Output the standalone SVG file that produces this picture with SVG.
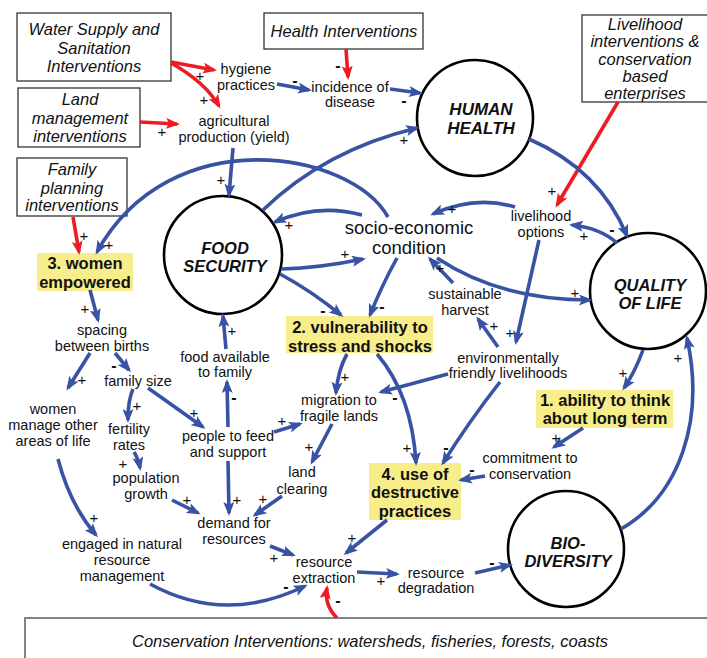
<svg xmlns="http://www.w3.org/2000/svg" width="707" height="658" viewBox="0 0 707 658">
<style>
.t{font-family:"Liberation Sans",Arial,sans-serif;font-size:14.5px;text-anchor:middle;fill:#111}
.se{font-size:18.5px}
.i{font-family:"Liberation Sans",Arial,sans-serif;font-size:16.5px;font-style:italic;text-anchor:middle;fill:#111}
.h{font-family:"Liberation Sans",Arial,sans-serif;font-size:16.5px;font-weight:bold;text-anchor:middle;fill:#111}
.c{font-family:"Liberation Sans",Arial,sans-serif;font-size:16.5px;font-weight:bold;font-style:italic;text-anchor:middle;fill:#111}
.box{fill:#fff;stroke:#333;stroke-width:1.3}
.hl{fill:#f7ee8b}
.circ{fill:#fff;stroke:#000;stroke-width:2.6}
.b{fill:none;stroke:#3953a4;stroke-width:3.6;marker-end:url(#ab)}
.r{fill:none;stroke:#ed1c24;stroke-width:3.6;marker-end:url(#ar)}
.sg{font-family:"Liberation Sans",Arial,sans-serif;font-size:15px;text-anchor:middle;dominant-baseline:central;fill:#111}
.m{font-weight:bold;font-size:16px}
</style>
<defs>
<marker id="ab" viewBox="0 0 14 11" refX="11" refY="5.5" markerWidth="14" markerHeight="11" markerUnits="userSpaceOnUse" orient="auto"><path d="M0,0 L14,5.5 L0,11 L3,5.5 Z" fill="#3953a4"/></marker>
<marker id="ar" viewBox="0 0 14 11" refX="11" refY="5.5" markerWidth="14" markerHeight="11" markerUnits="userSpaceOnUse" orient="auto"><path d="M0,0 L14,5.5 L0,11 L3,5.5 Z" fill="#ed1c24"/></marker>
</defs>
<rect width="707" height="658" fill="#fff"/>

<g id="int-water"><rect class="box" x="17" y="13" width="154" height="68"/><text class="i" x="94" y="35">Water Supply and</text><text class="i" x="94" y="54">Sanitation</text><text class="i" x="94" y="72">Interventions</text></g>
<g id="int-land"><rect class="box" x="18" y="88" width="122" height="59"/><text class="i" x="80" y="105">Land</text><text class="i" x="80" y="124">management</text><text class="i" x="80" y="142">interventions</text></g>
<g id="int-family"><rect class="box" x="17" y="158" width="110" height="58"/><text class="i" x="72" y="175">Family</text><text class="i" x="72" y="194">planning</text><text class="i" x="72" y="211">interventions</text></g>
<g id="int-health"><rect class="box" x="264" y="13" width="159" height="36"/><text class="i" x="344" y="37">Health Interventions</text></g>
<g id="int-livelihood"><rect class="box" x="582" y="15" width="130" height="87"/><text class="i" x="645" y="30">Livelihood</text><text class="i" x="645" y="47">interventions &amp;</text><text class="i" x="645" y="65">conservation</text><text class="i" x="645" y="82">based</text><text class="i" x="645" y="99">enterprises</text></g>
<g id="int-conservation"><rect x="25" y="618" width="690" height="50" fill="#fff" stroke="#666" stroke-width="1.6"/><text class="i" x="370" y="647">Conservation Interventions: watersheds, fisheries, forests, coasts</text></g>

<g id="human-health"><circle class="circ" cx="475" cy="118" r="58"/><text class="c" x="481" y="115" style="font-size:17px">HUMAN</text><text class="c" x="481" y="134" style="font-size:17px">HEALTH</text></g>
<g id="food-security"><circle class="circ" cx="223" cy="255" r="59"/><text class="c" x="225" y="254">FOOD</text><text class="c" x="225" y="272">SECURITY</text></g>
<g id="quality-of-life"><circle class="circ" cx="648" cy="291" r="58"/><text class="c" x="650" y="291">QUALITY</text><text class="c" x="650" y="309">OF LIFE</text></g>
<g id="biodiversity"><circle class="circ" cx="566" cy="549" r="58"/><text class="c" x="568" y="549">BIO-</text><text class="c" x="568" y="567">DIVERSITY</text></g>

<g id="women-empowered"><rect class="hl" x="37" y="253" width="96" height="38"/><text class="h" x="85" y="269">3. women</text><text class="h" x="85" y="288">empowered</text></g>
<g id="vulnerability"><rect class="hl" x="286" y="316" width="147" height="37"/><text class="h" x="360" y="333">2. vulnerability to</text><text class="h" x="360" y="352">stress and shocks</text></g>
<g id="ability"><rect class="hl" x="536" y="390" width="137" height="38"/><text class="h" x="605" y="406">1. ability to think</text><text class="h" x="605" y="424">about long term</text></g>
<g id="destructive"><rect class="hl" x="369" y="463" width="92" height="57"/><text class="h" x="415" y="480">4. use of</text><text class="h" x="415" y="498">destructive</text><text class="h" x="415" y="517">practices</text></g>

<g id="hygiene"><text class="t" x="246" y="74">hygiene</text><text class="t" x="246" y="90">practices</text></g>
<g id="incidence"><text class="t" x="350" y="92">incidence of</text><text class="t" x="350" y="107">disease</text></g>
<g id="agri"><text class="t" x="234" y="126">agricultural</text><text class="t" x="234" y="142">production (yield)</text></g>
<g id="socio"><text class="t se" x="409" y="234">socio-economic</text><text class="t se" x="409" y="254">condition</text></g>
<g id="livelihood-options"><text class="t" x="541" y="221">livelihood</text><text class="t" x="541" y="237">options</text></g>
<g id="spacing"><text class="t" x="102" y="335">spacing</text><text class="t" x="102" y="351">between births</text></g>
<g id="family-size"><text class="t" x="138" y="386">family size</text></g>
<g id="women-manage"><text class="t" x="53" y="414">women</text><text class="t" x="53" y="430">manage other</text><text class="t" x="53" y="446">areas of life</text></g>
<g id="fertility"><text class="t" x="129" y="434">fertility</text><text class="t" x="129" y="450">rates</text></g>
<g id="population"><text class="t" x="146" y="483">population</text><text class="t" x="146" y="499">growth</text></g>
<g id="people"><text class="t" x="228" y="441">people to feed</text><text class="t" x="228" y="457">and support</text></g>
<g id="food-available"><text class="t" x="225" y="362">food available</text><text class="t" x="225" y="377">to family</text></g>
<g id="migration"><text class="t" x="339" y="405">migration to</text><text class="t" x="339" y="421">fragile lands</text></g>
<g id="land-clearing"><text class="t" x="302" y="477">land</text><text class="t" x="302" y="494">clearing</text></g>
<g id="demand"><text class="t" x="234" y="528">demand for</text><text class="t" x="234" y="544">resources</text></g>
<g id="engaged"><text class="t" x="122" y="549">engaged in natural</text><text class="t" x="122" y="565">resource</text><text class="t" x="122" y="581">management</text></g>
<g id="extraction"><text class="t" x="324" y="567">resource</text><text class="t" x="324" y="583">extraction</text></g>
<g id="degradation"><text class="t" x="436" y="578">resource</text><text class="t" x="436" y="593">degradation</text></g>
<g id="sustainable"><text class="t" x="465" y="299">sustainable</text><text class="t" x="465" y="315">harvest</text></g>
<g id="env-friendly"><text class="t" x="508" y="363">environmentally</text><text class="t" x="508" y="378">friendly livelihoods</text></g>
<g id="commitment"><text class="t" x="530" y="463">commitment to</text><text class="t" x="530" y="479">conservation</text></g>

<g id="connectors">
<path class="r" d="M171,62 L214,70"/>
<path class="r" d="M171,63 Q205,82 219,106"/>
<path class="r" d="M140,122 L177,124"/>
<path class="r" d="M73,217 L79,252"/>
<path class="r" d="M346,49 L348,77"/>
<path class="r" d="M618,102 L557,205"/>
<path class="r" d="M337,618 Q324,605 327,588"/>

<path class="b" d="M277,84 L309,90"/>
<path class="b" d="M390,89 L420,93"/>
<path class="b" d="M233,148 L229,195"/>
<path class="b" d="M263,210 Q325,150 417,128"/>
<path class="b" d="M388,217 C350,150 170,120 97,252"/>
<path class="b" d="M362,215 Q318,203 275,222"/>
<path class="b" d="M281,269 Q320,268 363,259"/>
<path class="b" d="M280,274 Q310,290 341,315"/>
<path class="b" d="M397,258 Q382,285 370,315"/>
<path class="b" d="M515,207 Q475,195 433,214"/>
<path class="b" d="M539,240 L516,342"/>
<path class="b" d="M617,243 Q600,228 572,225"/>
<path class="b" d="M529,139 Q600,170 627,236"/>
<path class="b" d="M437,258 Q500,300 590,300"/>
<path class="b" d="M498,347 L478,319"/>
<path class="b" d="M453,283 L430,259"/>
<path class="b" d="M448,374 L381,392"/>
<path class="b" d="M500,382 Q470,420 443,463"/>
<path class="b" d="M377,354 Q412,395 416,463"/>
<path class="b" d="M347,354 Q338,370 336,393"/>
<path class="b" d="M643,350 Q635,372 624,388"/>
<path class="b" d="M583,428 L554,447"/>
<path class="b" d="M485,476 L461,480"/>
<path class="b" d="M621,529 C680,495 705,420 687,338"/>
<path class="b" d="M475,573 L510,565"/>
<path class="b" d="M357,572 L397,574"/>
<path class="b" d="M387,520 L346,553"/>
<path class="b" d="M270,546 L293,555"/>
<path class="b" d="M150,584 Q225,625 305,586"/>
<path class="b" d="M282,496 L255,515"/>
<path class="b" d="M332,424 L312,462"/>
<path class="b" d="M274,432 L300,424"/>
<path class="b" d="M228,427 L227,382"/>
<path class="b" d="M226,349 L223,316"/>
<path class="b" d="M228,461 L229,513"/>
<path class="b" d="M148,388 L203,427"/>
<path class="b" d="M172,500 L198,513"/>
<path class="b" d="M134,452 Q138,458 140,468"/>
<path class="b" d="M133,389 Q128,400 128,420"/>
<path class="b" d="M90,290 L98,320"/>
<path class="b" d="M90,353 L68,388"/>
<path class="b" d="M115,353 L129,370"/>
<path class="b" d="M58,459 Q70,505 96,535"/>

<text class="sg" x="200" y="75">+</text>
<text class="sg" x="204" y="99">+</text>
<text class="sg" x="162" y="131">+</text>
<text class="sg" x="84" y="235">+</text>
<text class="sg m" x="338" y="65">-</text>
<text class="sg" x="552" y="190">+</text>
<text class="sg m" x="338" y="600">-</text>
<text class="sg m" x="295" y="80">-</text>
<text class="sg m" x="404" y="100">-</text>
<text class="sg" x="221" y="179">+</text>
<text class="sg" x="404" y="139">+</text>
<text class="sg" x="109" y="244">+</text>
<text class="sg" x="289" y="224">+</text>
<text class="sg" x="345" y="253">+</text>
<text class="sg m" x="323" y="310">-</text>
<text class="sg m" x="382" y="306">-</text>
<text class="sg" x="452" y="208">+</text>
<text class="sg" x="510" y="332">+</text>
<text class="sg" x="584" y="235">+</text>
<text class="sg m" x="612" y="229">-</text>
<text class="sg" x="575" y="292">+</text>
<text class="sg" x="494" y="325">+</text>
<text class="sg" x="440" y="267">+</text>
<text class="sg m" x="395" y="397">-</text>
<text class="sg m" x="446" y="447">-</text>
<text class="sg" x="407" y="447">+</text>
<text class="sg" x="345" y="376">+</text>
<text class="sg" x="623" y="372">+</text>
<text class="sg" x="556" y="437">+</text>
<text class="sg m" x="472" y="469">-</text>
<text class="sg" x="678" y="357">+</text>
<text class="sg m" x="492" y="562">-</text>
<text class="sg" x="381" y="580">+</text>
<text class="sg" x="352" y="537">+</text>
<text class="sg" x="274" y="557">+</text>
<text class="sg m" x="286" y="586">-</text>
<text class="sg" x="263" y="498">+</text>
<text class="sg" x="309" y="446">+</text>
<text class="sg" x="282" y="420">+</text>
<text class="sg m" x="234" y="397">-</text>
<text class="sg" x="232" y="330">+</text>
<text class="sg" x="237" y="499">+</text>
<text class="sg" x="194" y="412">+</text>
<text class="sg" x="187" y="499">+</text>
<text class="sg" x="123" y="463">+</text>
<text class="sg" x="137" y="405">+</text>
<text class="sg" x="85" y="308">+</text>
<text class="sg" x="82" y="379">+</text>
<text class="sg m" x="114" y="365">-</text>
<text class="sg" x="94" y="517">+</text>
</g>
</svg>
